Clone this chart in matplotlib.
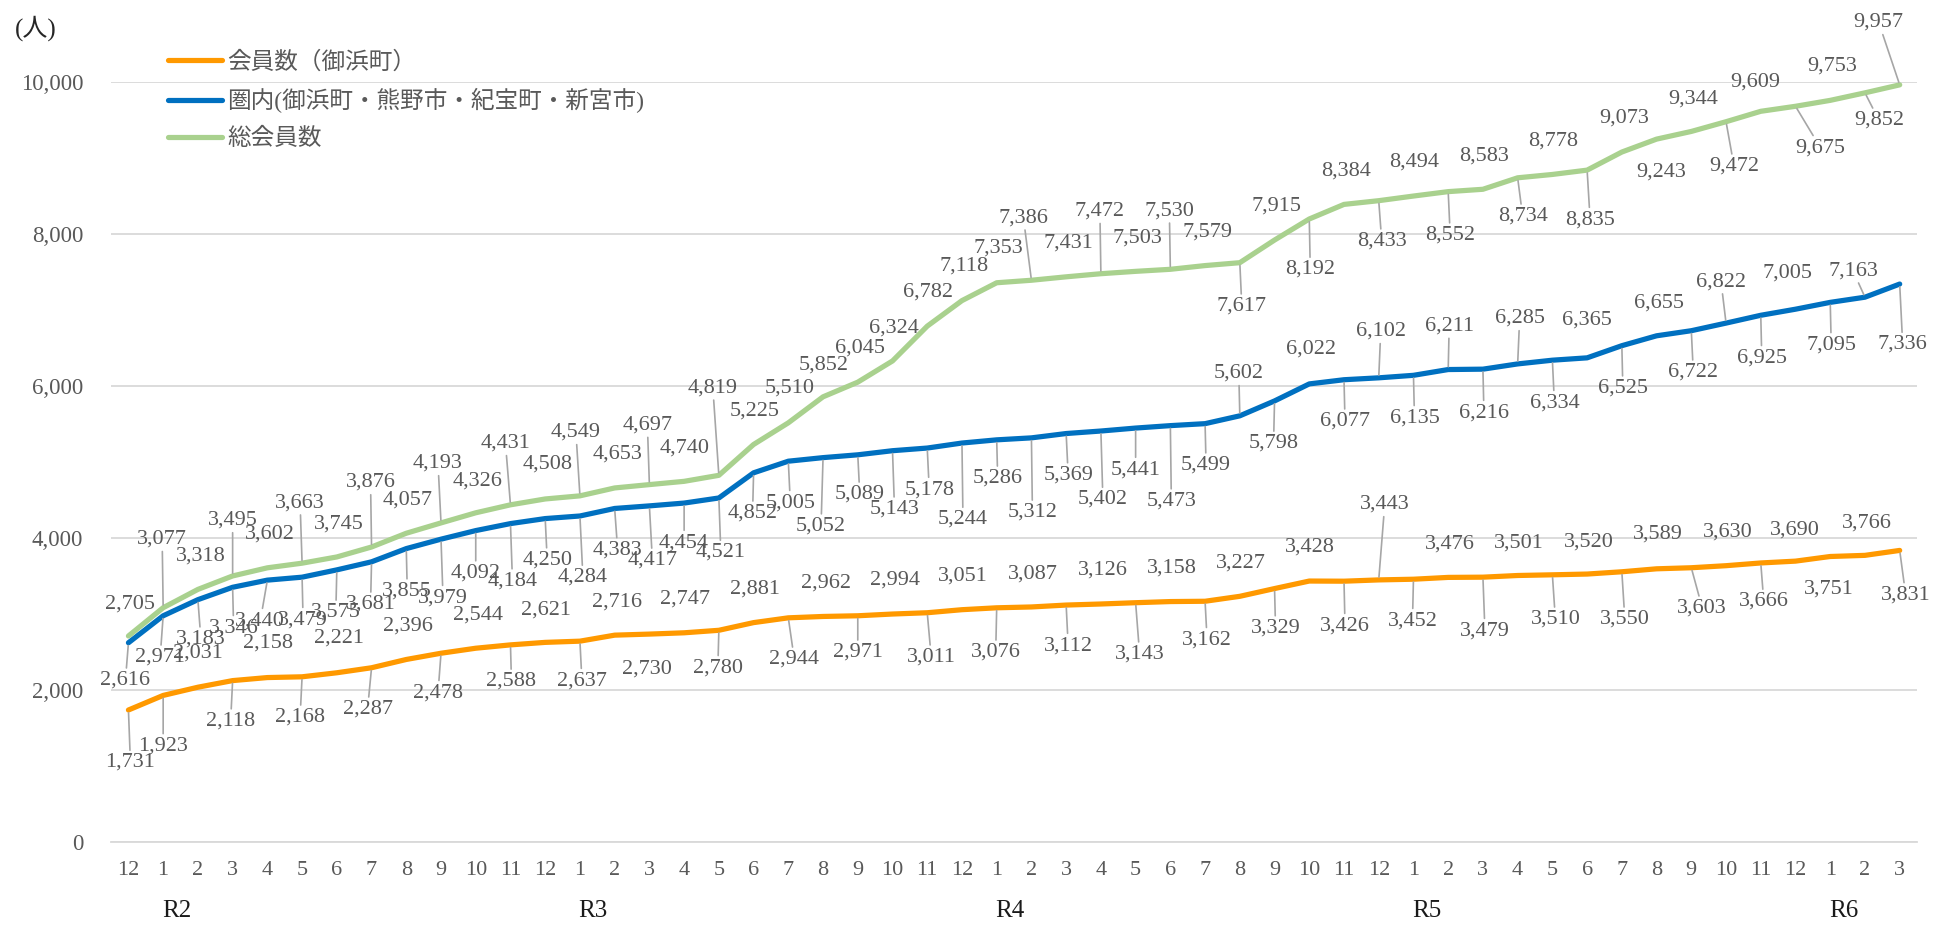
import matplotlib
matplotlib.use("Agg")
import matplotlib.pyplot as plt
import numpy as np

plt.rcParams["font.family"] = ["Liberation Serif", "Noto Sans CJK JP"]

# 月ラベル (R1年12月 ～ R6年3月)
months = ["12",
          "1", "2", "3", "4", "5", "6", "7", "8", "9", "10", "11", "12",
          "1", "2", "3", "4", "5", "6", "7", "8", "9", "10", "11", "12",
          "1", "2", "3", "4", "5", "6", "7", "8", "9", "10", "11", "12",
          "1", "2", "3", "4", "5", "6", "7", "8", "9", "10", "11", "12",
          "1", "2", "3"]
years = ["R2", "R3", "R4", "R5", "R6"]

# 会員数（御浜町）
mihama = [1731, 1923, 2031, 2118, 2158, 2168, 2221, 2287, 2396, 2478, 2544, 2588, 2621,
          2637, 2716, 2730, 2747, 2780, 2881, 2944, 2962, 2971, 2994, 3011, 3051,
          3076, 3087, 3112, 3126, 3143, 3158, 3162, 3227, 3329, 3428, 3426, 3443,
          3452, 3476, 3479, 3501, 3510, 3520, 3550, 3589, 3603, 3630, 3666, 3690,
          3751, 3766, 3831]
# 圏内(御浜町・熊野市・紀宝町・新宮市)
kennai = [2616, 2971, 3183, 3346, 3440, 3479, 3575, 3681, 3855, 3979, 4092, 4184, 4250,
          4284, 4383, 4417, 4454, 4521, 4852, 5005, 5052, 5089, 5143, 5178, 5244,
          5286, 5312, 5369, 5402, 5441, 5473, 5499, 5602, 5798, 6022, 6077, 6102,
          6135, 6211, 6216, 6285, 6334, 6365, 6525, 6655, 6722, 6822, 6925, 7005,
          7095, 7163, 7336]
# 総会員数
total = [2705, 3077, 3318, 3495, 3602, 3663, 3745, 3876, 4057, 4193, 4326, 4431, 4508,
         4549, 4653, 4697, 4740, 4819, 5225, 5510, 5852, 6045, 6324, 6782, 7118,
         7353, 7386, 7431, 7472, 7503, 7530, 7579, 7617, 7915, 8192, 8384, 8433,
         8494, 8552, 8583, 8734, 8778, 8835, 9073, 9243, 9344, 9472, 9609, 9675,
         9753, 9852, 9957]

# ラベル位置のずらし (px, 下向き正)
off_mihama = [(2, 50), (0, 48), (0, -37), (-2, 38), (1, -37), (-2, 38), (2, -37), (-4, 39),
              (2, -36), (-3, 37), (2, -36), (1, 34), (1, -35), (2, 37), (2, -36), (-2, 32),
              (1, -36), (-1, 35), (1, -36), (6, 39), (3, -36), (0, 34), (2, -36), (4, 42),
              (1, -36), (-1, 42), (1, -35), (2, 38), (2, -36), (4, 49), (2, -36), (2, 36),
              (1, -36), (1, 37), (1, -36), (1, 42), (6, -78), (-1, 39), (2, -36), (2, 51),
              (1, -35), (3, 42), (2, -35), (3, 45), (1, -37), (11, 38), (2, -36), (3, 36),
              (-1, -34), (-1, 30), (2, -35), (6, 42)]
off_kennai = [(-3, 35), (-3, 39), (3, 37), (1, 38), (-7, 38), (1, 40), (-1, 40), (-1, 40),
              (1, 40), (2, 56), (0, 40), (2, 55), (2, 39), (3, 59), (3, 39), (3, 52),
              (0, 37), (2, 52), (-1, 38), (2, 39), (-2, 66), (2, 37), (2, 56), (2, 39),
              (1, 74), (1, 36), (1, 72), (2, 39), (2, 66), (0, 39), (1, 73), (1, 39),
              (-1, -45), (-1, 40), (2, -37), (1, 39), (2, -49), (1, 40), (1, -46), (1, 41),
              (2, -48), (2, 40), (0, -40), (1, 40), (2, -35), (2, 39), (-5, -44), (1, 40),
              (-8, -39), (1, 40), (-12, -29), (3, 58)]
off_total = [(2, -34), (-1, -71), (3, -36), (0, -58), (3, -36), (-2, -63), (2, -35), (-1, -67),
             (1, -36), (-3, -62), (2, -34), (-5, -64), (2, -37), (-4, -66), (3, -36), (-2, -62),
             (1, -36), (-6, -90), (1, -36), (1, -37), (1, -34), (2, -37), (1, -35), (1, -37),
             (2, -37), (2, -37), (-8, -65), (2, -36), (-1, -65), (2, -36), (-1, -61), (2, -36),
             (2, 41), (2, -36), (1, 48), (2, -36), (3, 38), (1, -36), (2, 41), (1, -36),
             (5, 36), (1, -36), (3, 47), (2, -36), (5, 30), (2, -35), (8, 42), (-6, -32),
             (25, 39), (2, -37), (14, 25), (-21, -65)]

TXT = "#595959"
fig = plt.figure(figsize=(19.52, 9.25), dpi=100)
ax = fig.add_axes([0.0569, 0.0902, 0.9252, 0.8216])
x = np.arange(len(months))

ax.plot(x, mihama, color="#FF9900", lw=3.75, solid_capstyle="round", zorder=3,
        label="会員数（御浜町）")
ax.plot(x, kennai, color="#0070C0", lw=3.75, solid_capstyle="round", zorder=3,
        label="圏内(御浜町・熊野市・紀宝町・新宮市)")
ax.plot(x, total, color="#A9D18E", lw=3.75, solid_capstyle="round", zorder=3,
        label="総会員数")


def put_labels(vals, offs):
    for i, (v, (dx, dy)) in enumerate(zip(vals, offs)):
        lead = dy > 33 or dy < -40 or abs(dx) > 8
        ap = dict(arrowstyle="-", color="#A6A6A6", lw=1.2, shrinkA=0, shrinkB=2) if lead else None
        ax.annotate(f"{v:,}", xy=(i, v), xytext=(dx, -dy), textcoords="offset pixels",
                    ha="center", va="center_baseline", fontsize=16, color=TXT,
                    arrowprops=ap, annotation_clip=False, zorder=5)


put_labels(mihama, off_mihama)
put_labels(kennai, off_kennai)
put_labels(total, off_total)

ax.set_xlim(-0.5, len(months) - 0.5)
ax.set_ylim(0, 10000)
ax.set_yticks(np.arange(0, 10001, 2000))
ax.set_yticklabels([f"{v:,}" for v in np.arange(0, 10001, 2000)])
ax.set_xticks(x)
ax.set_xticklabels(months)
ax.tick_params(axis="y", length=0, pad=20, labelsize=16.5, labelcolor=TXT)
ax.tick_params(axis="x", length=0, pad=14, labelsize=16, labelcolor=TXT)
ax.yaxis.grid(True, color="#D9D9D9", lw=1.3)
ax.set_axisbelow(True)
for s in ["top", "left", "right"]:
    ax.spines[s].set_visible(False)
ax.spines["bottom"].set_color("#D9D9D9")
ax.spines["bottom"].set_linewidth(1.3)

# 年度ラベル
for i, m in enumerate(months):
    if m == "1":
        k = sum(1 for mm in months[:i + 1] if mm == "1") - 1
        ax.annotate(years[k], xy=(i + 0.38, 0), xycoords=("data", "axes fraction"),
                    xytext=(0, -69), textcoords="offset pixels", ha="center",
                    va="center", fontsize=18, color="#1a1a1a", annotation_clip=False)

fig.text(15 / 1952, 1 - 28 / 925, "(人)", fontsize=18, color="#262626", va="center")

ax.legend(loc="upper left", bbox_to_anchor=(168 / 1952, 1 - 51 / 925),
          bbox_transform=fig.transFigure, frameon=False, fontsize=17,
          handlelength=2.3, handletextpad=0.2, labelspacing=0.62, borderpad=0,
          borderaxespad=0, labelcolor=TXT)

fig.savefig("out.png", dpi=100)
